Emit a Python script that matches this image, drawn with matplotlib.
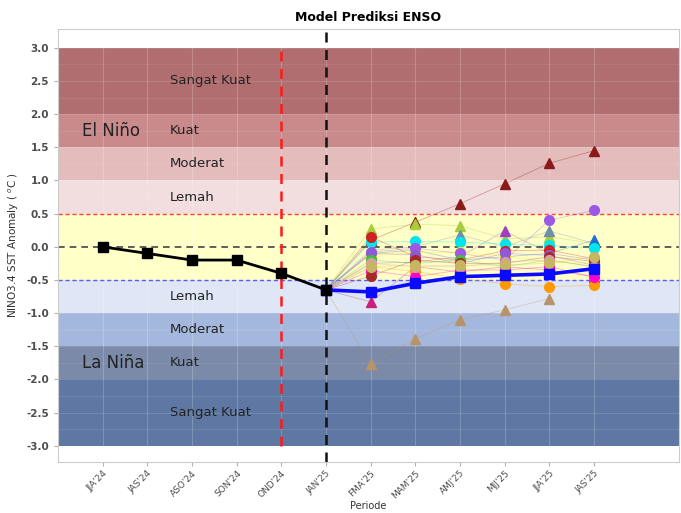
import numpy as np
import matplotlib
matplotlib.use("Agg")
import matplotlib.pyplot as plt

# ---- data ----
periods = ["JJA'24", "JAS'24", "ASO'24", "SON'24", "OND'24", "JAN'25",
           "FMA'25", "MAM'25", "AMJ'25", "MJJ'25", "JJA'25", "JAS'25"]
obs = [0.0, -0.1, -0.2, -0.2, -0.4, -0.65]
forecast_periods = ["JAN'25", "FMA'25", "MAM'25", "AMJ'25", "MJJ'25", "JJA'25", "JAS'25"]
ensemble_mean = [-0.65, -0.68, -0.55, -0.45, -0.43, -0.41, -0.33]

start_value = -0.65
model_colors = ["#8b1a1a", "#b8936a", "#a8cc3c", "#6f8fa6", "#a040c0", "#c8207a",
                "#1f6fd0", "#00e5ee", "#ffee00", "#ff9900", "#cc2222", "#9b59e6",
                "#8e5ad8", "#40c040", "#ff00cc", "#a52a2a", "#d4a0a0", "#c8b560"]
model_markers = ["^", "^", "^", "^", "^", "^",
                 "^", "o", "o", "o", "o", "o",
                 "o", "o", "o", "o", "o", "o"]
model_values = [
    [0.10, 0.37, 0.65, 0.95, 1.26, 1.45],
    [-1.77, -1.39, -1.10, -0.95, -0.78, np.nan],
    [0.27, 0.34, 0.32, 0.12, 0.15, 0.05],
    [-0.05, 0.00, 0.18, 0.00, 0.24, 0.05],
    [-0.25, -0.23, -0.15, 0.24, -0.10, -0.20],
    [-0.83, -0.30, -0.38, -0.30, -0.35, -0.45],
    [-0.10, -0.05, -0.20, -0.15, -0.10, 0.10],
    [0.07, 0.08, 0.07, 0.04, 0.02, -0.02],
    [-0.12, -0.09, -0.08, -0.14, -0.23, -0.25],
    [-0.30, -0.37, -0.48, -0.56, -0.60, -0.58],
    [0.15, -0.15, -0.20, -0.06, -0.05, -0.18],
    [-0.08, -0.02, -0.10, -0.20, 0.40, 0.55],
    [-0.10, -0.12, -0.25, -0.10, -0.13, -0.28],
    [-0.20, -0.25, -0.20, -0.30, -0.20, -0.30],
    [-0.36, -0.45, -0.35, -0.35, -0.30, -0.46],
    [-0.44, -0.20, -0.25, -0.25, -0.15, -0.22],
    [-0.25, -0.30, -0.30, -0.23, -0.20, -0.30],
    [-0.30, -0.28, -0.28, -0.27, -0.25, -0.15],
]

band_edges = [-3.0, -2.0, -1.5, -1.0, -0.5, 0.5, 1.0, 1.5, 2.0, 3.0]
band_colors = ["#5f78a3", "#7a8aa8", "#a4b8de", "#dfe6f5", "#ffffc8",
               "#f2dede", "#e4bcbc", "#c98a8c", "#b06e70"]
band_labels = ["Sangat Kuat", "Kuat", "Moderat", "Lemah", "",
               "Lemah", "Moderat", "Kuat", "Sangat Kuat"]

# ---- figure ----
fig = plt.figure(figsize=(6.81, 5.13), dpi=100)
ax = fig.add_axes([0.085, 0.1, 0.912, 0.843])

xpos = {p: i + 1 for i, p in enumerate(periods)}

for lo, hi, c in zip(band_edges[:-1], band_edges[1:], band_colors):
    ax.axhspan(lo, hi, color=c, lw=0, zorder=1)

# grid on top of bands, faint
for i in range(1, len(periods) + 1):
    ax.axvline(i, color="white", lw=0.8, alpha=0.2, zorder=1.5)
for y in np.arange(-3.0, 3.01, 0.25):
    ax.axhline(y, color="white", lw=0.6 if y * 2 % 1 == 0 else 0.4, alpha=0.15, zorder=1.5)

for lo, hi, lab in zip(band_edges[:-1], band_edges[1:], band_labels):
    if lab:
        ax.text(2.5, (lo + hi) / 2, lab, fontsize=9.5, color="#222222",
                va="center", ha="left", zorder=2)
ax.text(0.55, 1.75, "El Niño", fontsize=12, color="#222222", va="center", zorder=2)
ax.text(0.55, -1.75, "La Niña", fontsize=12, color="#222222", va="center", zorder=2)

ax.axhline(0.5, color="#ff4040", lw=1.0, ls=(0, (3, 2)), zorder=2)
ax.axhline(0.0, color="#444444", lw=1.2, ls=(0, (4, 3)), zorder=2)
ax.axhline(-0.5, color="#5a5aff", lw=1.0, ls=(0, (3, 2)), zorder=2)
ax.plot([xpos["OND'24"]] * 2, [-3.0, 3.0], color="#ff1a1a", lw=1.8,
        ls=(0, (4, 3)), zorder=2)
ax.axvline(xpos["JAN'25"], color="#111111", lw=1.8, ls=(0, (4, 3)), zorder=2)

fx = [xpos[p] for p in forecast_periods]
for vals, c, m in zip(model_values, model_colors, model_markers):
    ys = [start_value] + vals
    ax.plot(fx, ys, color=c, lw=0.6, alpha=0.35, zorder=3)
    ax.plot(fx[1:], vals, ls="none", marker=m, ms=7, color=c, zorder=4)

ax.plot(fx, ensemble_mean, color="#0a0aff", lw=2.6, marker="s", ms=7.5, zorder=6)
ax.plot([xpos[p] for p in periods[:len(obs)]], obs, color="black", lw=2.0,
        marker="s", ms=6.5, zorder=6)

ax.set_xlim(0.0, 13.9)
ax.set_ylim(-3.24, 3.28)
ax.set_yticks(np.arange(-3.0, 3.01, 0.5))
ax.set_yticklabels([f"{v:.1f}" for v in np.arange(-3.0, 3.01, 0.5)],
                   fontsize=7.5, color="#4d4d4d", fontweight="bold")
ax.set_xticks(range(1, len(periods) + 1))
ax.set_xticklabels(periods, rotation=45, ha="right", rotation_mode="anchor",
                   fontsize=6.5, color="#4d4d4d")
ax.tick_params(length=3, color="#b0b0b0", width=0.8)
ax.tick_params(axis="x", pad=2)
for s in ax.spines.values():
    s.set_color("#cccccc")
    s.set_linewidth(0.8)

ax.set_ylabel("NINO3.4 SST Anomaly ( $^{o}$C )", fontsize=7.5, color="#333333")
ax.set_xlabel("Periode", fontsize=7, color="#333333", labelpad=1)
ax.set_title("Model Prediksi ENSO", fontsize=9, fontweight="bold", pad=6)

fig.savefig("out.png", dpi=100)
